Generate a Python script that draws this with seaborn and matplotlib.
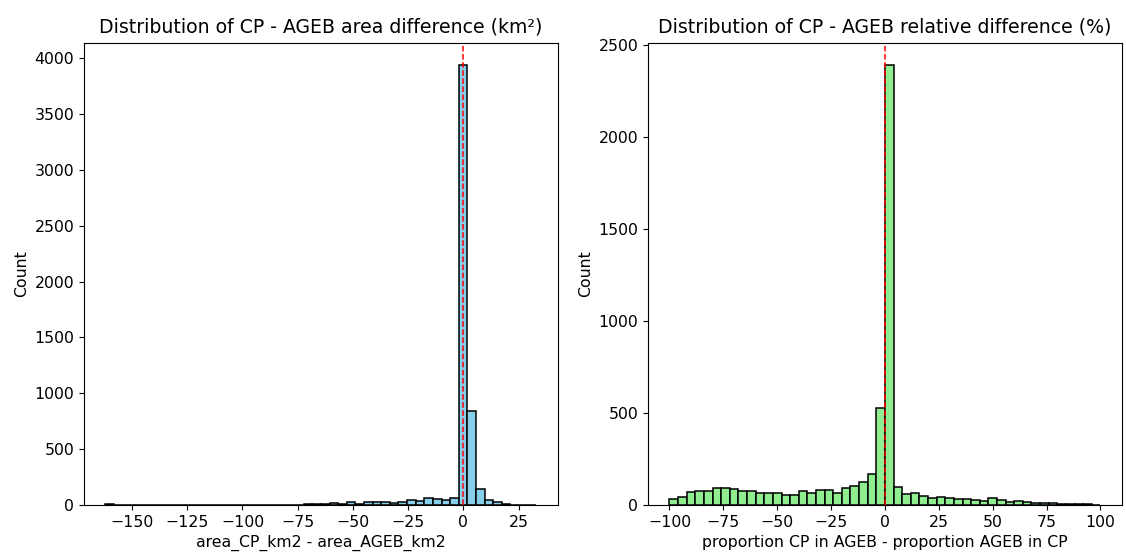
import numpy as np
import pandas as pd
import matplotlib
matplotlib.use('Agg')
import matplotlib.pyplot as plt
import seaborn as sns

# Left panel: area difference histogram (50 bins from -162 to 33, width 3.9)
area_lo, area_hi = -162.0, 33.0
area_counts = [5, 1, 0, 0, 1, 0, 0, 0, 0, 0,
               0, 0, 0, 1, 1, 2, 1, 2, 1, 2,
               2, 3, 3, 5, 6, 8, 15, 8, 24, 12,
               24, 24, 27, 18, 24, 45, 39, 63, 51, 45,
               66, 3940, 840, 138, 42, 26, 9, 3, 2, 2]

# Right panel: relative difference histogram (50 bins from -100 to 100, width 4)
rel_lo, rel_hi = -100.0, 100.0
rel_counts = [31, 42, 71, 76, 75, 93, 93, 89, 78, 78,
              65, 65, 62, 55, 56, 73, 65, 80, 80, 65,
              91, 100, 125, 169, 525, 2390, 95, 60, 65, 49,
              38, 44, 40, 33, 33, 24, 22, 35, 29, 18,
              22, 18, 11, 9, 8, 7, 6, 4, 3, 2]

area_edges = np.linspace(area_lo, area_hi, len(area_counts) + 1)
rel_edges = np.linspace(rel_lo, rel_hi, len(rel_counts) + 1)

df_area = pd.DataFrame({'area_diff': (area_edges[:-1] + area_edges[1:]) / 2, 'n': area_counts})
df_rel = pd.DataFrame({'rel_diff': (rel_edges[:-1] + rel_edges[1:]) / 2, 'n': rel_counts})

plt.rcParams['xtick.labelsize'] = 11.3
plt.rcParams['ytick.labelsize'] = 11.3
plt.rcParams['axes.labelsize'] = 11.3
plt.rcParams['axes.titlesize'] = 13.6
plt.rcParams['axes.titlepad'] = 8

fig, axes = plt.subplots(1, 2, figsize=(11.26, 5.53), dpi=100)

sns.histplot(data=df_area, x='area_diff', weights='n', bins=len(area_counts),
             binrange=(area_lo, area_hi), color='skyblue', edgecolor='black',
             linewidth=1.1, alpha=1, ax=axes[0])
axes[0].axvline(0, color='red', linestyle='--', linewidth=1.1)
axes[0].set_title('Distribution of CP - AGEB area difference (km²)')
axes[0].set_xlabel('area_CP_km2 - area_AGEB_km2')
axes[0].set_ylabel('Count')

sns.histplot(data=df_rel, x='rel_diff', weights='n', bins=len(rel_counts),
             binrange=(rel_lo, rel_hi), color='lightgreen', edgecolor='black',
             linewidth=1.1, alpha=1, ax=axes[1])
axes[1].axvline(0, color='red', linestyle='--', linewidth=1.1)
axes[1].set_title('Distribution of CP - AGEB relative difference (%)')
axes[1].set_xlabel('proportion CP in AGEB - proportion AGEB in CP')
axes[1].set_ylabel('Count')

plt.subplots_adjust(left=0.0745, right=0.9964, bottom=0.087, top=0.922, wspace=0.19)
plt.savefig('out.png', dpi=100)
